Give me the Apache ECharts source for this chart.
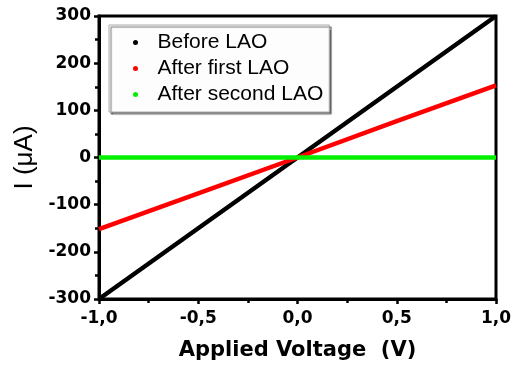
<!DOCTYPE html>
<html>
<head>
<meta charset="utf-8">
<script src="https://cdn.jsdelivr.net/npm/echarts@6/dist/echarts.min.js"></script>
<style>
html,body{margin:0;padding:0;background:#fff;}
#chart{width:518px;height:370px;}
</style>
</head>
<body>
<div id="chart"></div>
<script>
var voltage = [-1.0, -0.5, 0.0, 0.5, 1.0];
var beforeLAO = [-300, -150, 0, 150, 300];
var afterFirstLAO = [-152, -76, 0, 77, 153];
var afterSecondLAO = [0, 0, 0, 0, 0];
var seriesNames = ['Before LAO', 'After first LAO', 'After second LAO'];
var seriesColors = ['#000000', '#ff0000', '#00f000'];
var xTickMin = -1, xTickMax = 1, xTickStep = 0.5;
var yTickMin = -300, yTickMax = 300, yTickStep = 100;

function pairs(xs, ys) { return xs.map(function (x, i) { return [x, ys[i]]; }); }
function comma(v) { return (Math.abs(v) < 1e-9 ? 0 : v).toFixed(1).replace('.', ','); }

var allData = [beforeLAO, afterFirstLAO, afterSecondLAO];
var chart = echarts.init(document.getElementById('chart'), null, {renderer: 'canvas'});
var tickFont = {fontFamily: 'DejaVu Sans', fontWeight: 'bold', fontSize: 17, color: '#000'};

chart.setOption({
  animation: false,
  backgroundColor: '#fff',
  grid: {left: 99, right: 22, top: 16, bottom: 71, show: true, borderColor: '#000', borderWidth: 3, backgroundColor: 'transparent'},
  legend: {
    data: seriesNames,
    orient: 'vertical',
    left: 109, top: 25,
    icon: 'circle',
    itemWidth: 34, itemHeight: 5,
    itemGap: 5,
    padding: [7, 6, 7, 24],
    backgroundColor: '#fdfdfd',
    borderColor: '#aaaaaa', borderWidth: 1,
    shadowColor: 'rgba(0,0,0,0.55)', shadowOffsetX: 2, shadowOffsetY: 2, shadowBlur: 1,
    textStyle: {fontFamily: 'Liberation Sans', fontSize: 21, lineHeight: 20, color: '#000'}
  },
  xAxis: {
    type: 'value', min: xTickMin, max: xTickMax, interval: xTickStep,
    name: 'Applied Voltage  (V)', nameLocation: 'middle', nameGap: 41,
    nameTextStyle: {fontFamily: 'DejaVu Sans', fontWeight: 'bold', fontSize: 21, color: '#000'},
    axisLine: {show: true, onZero: false, lineStyle: {color: '#000', width: 3}},
    axisTick: {show: true, inside: false, length: 5, lineStyle: {color: '#000', width: 2.5}},
    minorTick: {show: true, splitNumber: 2, length: 4, lineStyle: {color: '#000', width: 2.5}},
    splitLine: {show: false},
    axisLabel: Object.assign({margin: 11, formatter: comma}, tickFont)
  },
  yAxis: {
    type: 'value', min: yTickMin, max: yTickMax, interval: yTickStep,
    name: 'I (\u03bcA)', nameLocation: 'middle', nameGap: 48, nameRotate: 90,
    nameTextStyle: {fontFamily: 'Liberation Sans', fontSize: 26, color: '#000'},
    axisLine: {show: true, onZero: false, lineStyle: {color: '#000', width: 3}},
    axisTick: {show: true, inside: false, length: 5, lineStyle: {color: '#000', width: 2.5}},
    minorTick: {show: true, splitNumber: 2, length: 4, lineStyle: {color: '#000', width: 2.5}},
    splitLine: {show: false},
    axisLabel: Object.assign({margin: 8}, tickFont)
  },
  series: seriesNames.map(function (n, i) {
    return {
      name: n, type: 'line', data: pairs(voltage, allData[i]),
      showSymbol: false, symbol: 'circle', symbolSize: 4,
      itemStyle: {color: seriesColors[i]},
      lineStyle: {color: seriesColors[i], width: 4.5},
      z: 2 + i
    };
  })
});
</script>
</body>
</html>
